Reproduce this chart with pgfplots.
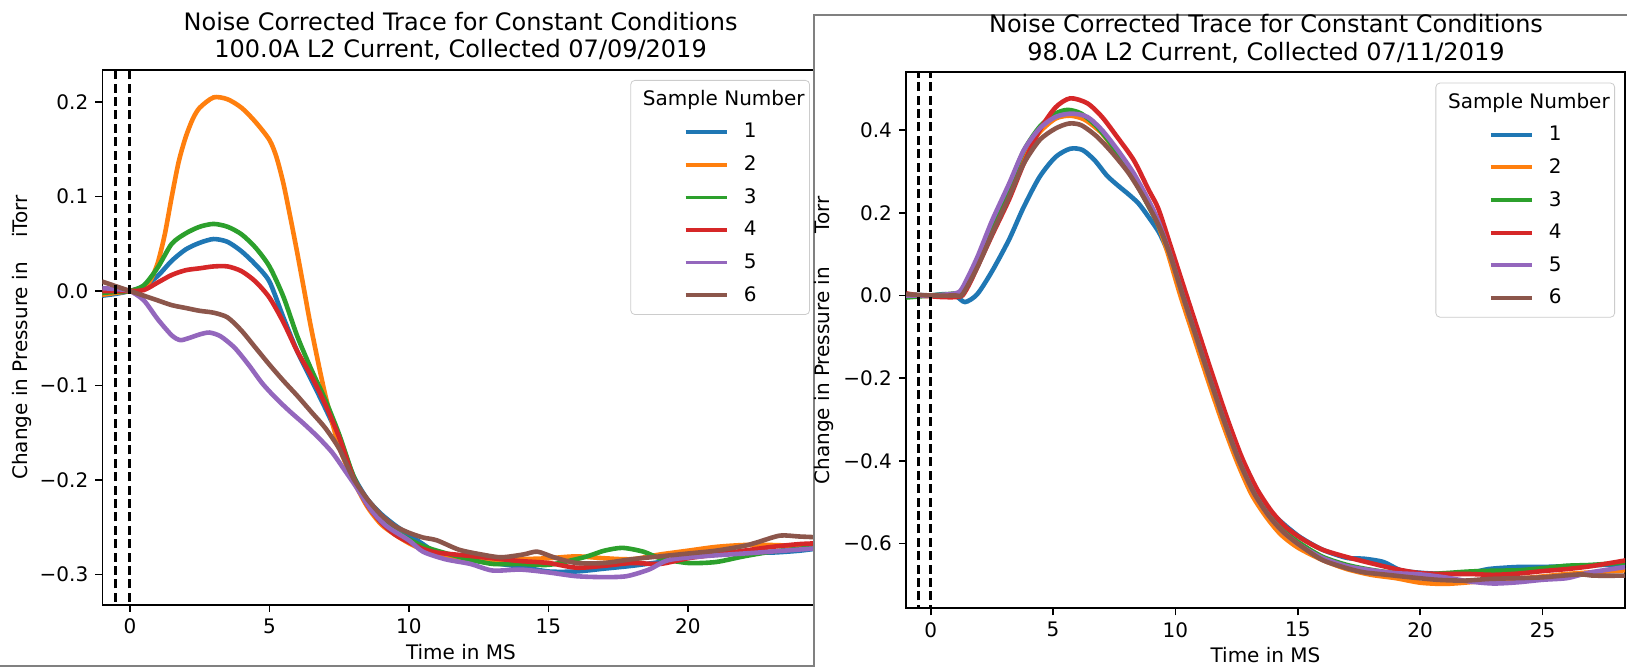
\documentclass[border=0pt]{standalone}
\usepackage{fontspec}
\setmainfont{DejaVu Sans}
\usepackage{pgfplots}
\pgfplotsset{compat=1.18}
\definecolor{cA}{HTML}{1F77B4}
\definecolor{cB}{HTML}{FF7F0E}
\definecolor{cC}{HTML}{2CA02C}
\definecolor{cD}{HTML}{D62728}
\definecolor{cE}{HTML}{9467BD}
\definecolor{cF}{HTML}{8C564B}
\definecolor{scrgray}{HTML}{808080}
\pgfplotsset{
  mpl/.style={
    scale only axis,
    axis line style={line width=0.8pt},
    every tick/.style={line width=0.8pt, black},
    tick align=outside, tick pos=left,
    major tick length=3.5pt,
    tick label style={font=\fontsize{10}{12}\selectfont},
    label style={font=\fontsize{10}{12}\selectfont},
    legend cell align=left,
    legend style={font=\fontsize{10}{12}\selectfont, draw=black!20, rounded corners=2pt,
      fill=white, inner xsep=26.5pt, inner ysep=5.2pt, column sep=7.6pt, row sep=7.45pt,
      nodes={inner sep=0pt}, cells={anchor=west}},
    legend image code/.code={\draw[##1, line width=1.9pt] (0pt,0pt) -- (20.5pt,0pt);},
    every axis plot/.append style={line width=2.3pt, smooth, tension=0.45},
  },
  vdash/.style={black, line width=1.5pt, dash pattern=on 4.5pt off 2.2pt, forget plot, sharp plot},
}
\newcommand{\legtitle}{\addlegendimage{empty legend}\addlegendentry{\makebox[0pt]{\hspace{-21pt}\raisebox{0pt}[7.3pt][0pt]{Sample Number}}}}
\begin{document}
\begin{tikzpicture}
\useasboundingbox (0pt,0pt) rectangle (813.5pt,-333.5pt);
% ---------------- left panel ----------------
\begin{axis}[mpl,
  at={(51.15pt,-302.5pt)}, anchor=south west,
  width=358.65pt, height=267.5pt,
  xmin=-0.99, xmax=24.72, ymin=-0.3325, ymax=0.234,
  xtick={0,5,10,15,20}, xticklabels={0,5,10,15,20},
  ytick={-0.3,-0.2,-0.1,0,0.1,0.2}, yticklabels={−0.3,−0.2,−0.1,0.0,0.1,0.2},
  xlabel={Time in MS},
  ylabel={Change in Pressure in\hspace{0.9em} iTorr},
  xlabel style={at={(axis description cs:0.5,-0.088)}, anchor=center},
  ylabel style={at={(axis description cs:-0.1126,0.5)}, anchor=center},
  legend style={at={(axis description cs:0.9865,0.9813)}, anchor=north east},
]
\legtitle
\addplot[cA] coordinates {(-1,-0.005) (-0.5,-0.003) (0,0.0) (0.5,0.005) (1,0.016) (1.5,0.032) (2,0.044) (2.5,0.051) (3,0.055) (3.5,0.052) (4,0.042) (4.5,0.028) (5,0.01) (5.5,-0.028) (6,-0.064) (6.5,-0.094) (7,-0.124) (7.5,-0.156) (8,-0.195) (8.5,-0.22) (9,-0.236) (9.5,-0.248) (10,-0.258) (10.5,-0.268) (11,-0.277) (12,-0.284) (13,-0.288) (14,-0.292) (15,-0.297) (16,-0.297) (17,-0.294) (18,-0.291) (19,-0.287) (20,-0.282) (21,-0.279) (22,-0.277) (23,-0.277) (24,-0.275) (24.8,-0.272)};
\addlegendentry{1}
\addplot[cB] coordinates {(-1,-0.004) (-0.5,-0.002) (0,0.0) (0.5,0.004) (0.75,0.012) (1.0,0.03) (1.25,0.06) (1.5,0.1) (1.75,0.137) (2.0,0.163) (2.25,0.182) (2.5,0.194) (3.0,0.205) (3.5,0.203) (4.0,0.194) (4.5,0.179) (5.0,0.16) (5.25,0.142) (5.5,0.114) (5.75,0.078) (6.0,0.04) (6.25,0.0) (6.5,-0.04) (7.0,-0.11) (7.5,-0.165) (8.0,-0.2) (8.5,-0.228) (9.0,-0.247) (9.5,-0.258) (10,-0.267) (10.5,-0.274) (11,-0.279) (12,-0.284) (13,-0.285) (14,-0.284) (15,-0.283) (16,-0.281) (17,-0.283) (18,-0.284) (19,-0.279) (20,-0.275) (21,-0.271) (22,-0.269) (23,-0.269) (24,-0.27) (24.8,-0.27)};
\addlegendentry{2}
\addplot[cC] coordinates {(-1,-0.002) (-0.5,-0.001) (0,0.0) (0.5,0.006) (1,0.025) (1.5,0.05) (2,0.061) (2.5,0.068) (3,0.071) (3.5,0.068) (4,0.06) (4.5,0.046) (5,0.026) (5.5,-0.006) (6,-0.048) (6.5,-0.083) (7,-0.115) (7.5,-0.152) (8,-0.195) (8.5,-0.224) (9,-0.242) (9.5,-0.254) (10,-0.263) (10.5,-0.27) (11,-0.275) (12,-0.283) (13,-0.289) (14,-0.289) (15,-0.29) (16,-0.284) (16.5,-0.28) (17,-0.275) (17.65,-0.272) (18.4,-0.276) (19,-0.283) (20,-0.288) (21,-0.287) (22,-0.281) (23,-0.276) (24,-0.273) (24.8,-0.27)};
\addlegendentry{3}
\addplot[cD] coordinates {(-1,0.0) (-0.5,0.0) (0,0.0) (0.5,0.001) (1,0.009) (1.5,0.017) (2,0.022) (2.5,0.024) (3,0.026) (3.5,0.026) (4,0.021) (4.5,0.01) (5,-0.007) (5.5,-0.033) (6,-0.064) (6.5,-0.09) (7,-0.12) (7.5,-0.155) (8,-0.197) (8.5,-0.226) (9,-0.245) (9.5,-0.258) (10,-0.266) (10.5,-0.273) (11,-0.277) (12,-0.28) (13,-0.283) (14,-0.286) (15,-0.288) (16,-0.293) (17,-0.291) (18,-0.288) (19,-0.289) (20,-0.283) (21,-0.279) (22,-0.275) (23,-0.271) (24,-0.268) (24.8,-0.267)};
\addlegendentry{4}
\addplot[cE] coordinates {(-1,0.003) (-0.5,0.002) (0,0.0) (0.5,-0.01) (1,-0.03) (1.5,-0.047) (1.8,-0.052) (2.1,-0.05) (2.5,-0.046) (2.85,-0.044) (3.25,-0.048) (3.75,-0.06) (4.25,-0.078) (4.75,-0.098) (5.25,-0.114) (5.75,-0.128) (6.25,-0.141) (6.75,-0.155) (7.25,-0.171) (7.75,-0.192) (8.1,-0.207) (8.65,-0.232) (9.2,-0.249) (10,-0.264) (10.5,-0.276) (11.3,-0.284) (12.2,-0.289) (13,-0.296) (14,-0.295) (15,-0.298) (16,-0.302) (17,-0.303) (17.8,-0.302) (18.6,-0.295) (19.3,-0.285) (20.5,-0.281) (22.5,-0.277) (24.8,-0.272)};
\addlegendentry{5}
\addplot[cF] coordinates {(-1,0.01) (-0.5,0.005) (0,0.0) (0.5,-0.005) (1,-0.01) (1.5,-0.015) (2,-0.018) (2.5,-0.021) (3,-0.023) (3.5,-0.028) (4,-0.042) (4.5,-0.06) (5,-0.078) (5.5,-0.095) (6,-0.111) (6.5,-0.128) (7,-0.145) (7.5,-0.167) (8,-0.198) (8.5,-0.22) (9,-0.237) (9.5,-0.249) (10,-0.256) (10.5,-0.261) (11,-0.264) (11.8,-0.274) (12.6,-0.279) (13.3,-0.282) (14.1,-0.279) (14.6,-0.276) (15.2,-0.282) (16,-0.288) (17,-0.288) (18,-0.284) (19,-0.281) (20,-0.278) (21,-0.275) (22,-0.27) (22.5,-0.266) (23.3,-0.259) (24,-0.26) (24.8,-0.261)};
\addlegendentry{6}
\addplot[vdash] coordinates {(-0.5,-0.4) (-0.5,0.3)};
\addplot[vdash] coordinates {(0,-0.4) (0,0.3)};
\end{axis}
\draw[scrgray, line width=0.9pt] (0pt,-333pt) -- (407pt,-333pt);
\node[font=\fontsize{12}{13.7}\selectfont, align=center] at (230.3pt,-18.2pt) {Noise Corrected Trace for Constant Conditions\\100.0A L2 Current, Collected 07/09/2019};
% ---------------- right panel cover ----------------
\fill[white] (407pt,-7.5pt) rectangle (820pt,-340pt);
\draw[scrgray, line width=0.7pt] (407pt,-340pt) -- (407pt,-7.5pt) -- (820pt,-7.5pt);
% ---------------- right panel ----------------
\begin{axis}[mpl,
  at={(453pt,-304.15pt)}, anchor=south west,
  width=359.5pt, height=268pt,
  xmin=-1.01, xmax=28.37, ymin=-0.757, ymax=0.54,
  xtick={0,5,10,15,20,25}, xticklabels={0,5,10,15,20,25},
  ytick={-0.6,-0.4,-0.2,0,0.2,0.4}, yticklabels={−0.6,−0.4,−0.2,0.0,0.2,0.4},
  xlabel={Time in MS},
  ylabel={Change in Pressure in\hspace{1.36em} Torr},
  xlabel style={at={(axis description cs:0.5,-0.088)}, anchor=center},
  ylabel style={at={(axis description cs:-0.114,0.5)}, anchor=center},
  legend style={at={(axis description cs:0.9861,0.9806)}, anchor=north east},
]
\legtitle
\addplot[cA] coordinates {(-1,0.002) (0,0.0) (0.5,0.003) (1.0,0.0) (1.4,-0.016) (1.9,0.003) (2.5,0.058) (3.2,0.135) (3.8,0.214) (4.45,0.287) (5.1,0.335) (5.7,0.355) (6.2,0.352) (6.7,0.327) (7.2,0.29) (7.65,0.266) (8.1,0.244) (8.5,0.222) (8.9,0.19) (9.35,0.15) (9.8,0.09) (10.3,0.0) (10.85,-0.1) (11.4,-0.2) (12.0,-0.305) (12.6,-0.4) (13.2,-0.47) (13.8,-0.518) (14.4,-0.552) (15.1,-0.585) (16,-0.615) (17,-0.635) (17.7,-0.637) (18.5,-0.645) (19.2,-0.665) (20,-0.671) (21,-0.674) (22,-0.672) (22.8,-0.662) (24,-0.657) (25,-0.657) (26,-0.655) (27,-0.653) (28.4,-0.65)};
\addlegendentry{1}
\addplot[cB] coordinates {(-1,0.0) (0,0.0) (1.0,0.002) (1.3,0.015) (1.9,0.085) (2.5,0.172) (3.2,0.262) (3.8,0.34) (4.45,0.395) (5.1,0.428) (5.7,0.435) (6.3,0.425) (7.0,0.392) (7.6,0.345) (8.3,0.285) (8.9,0.22) (9.3,0.17) (9.7,0.1) (10.2,0.0) (10.75,-0.1) (11.3,-0.2) (11.9,-0.305) (12.5,-0.4) (13.1,-0.48) (13.7,-0.535) (14.3,-0.578) (15,-0.61) (16,-0.64) (17,-0.662) (18,-0.676) (19,-0.684) (20,-0.695) (21,-0.698) (22,-0.694) (23,-0.688) (24,-0.685) (25,-0.68) (26,-0.674) (27,-0.67) (28.4,-0.665)};
\addlegendentry{2}
\addplot[cC] coordinates {(-1,-0.005) (0,0.0) (1.0,0.005) (1.3,0.011) (1.9,0.076) (2.5,0.162) (3.2,0.262) (3.8,0.35) (4.45,0.408) (5.1,0.44) (5.6,0.449) (6.15,0.44) (6.8,0.408) (7.45,0.36) (8.1,0.303) (8.7,0.238) (9.35,0.165) (9.8,0.095) (10.3,0.0) (10.85,-0.1) (11.4,-0.2) (12.0,-0.305) (12.6,-0.4) (13.2,-0.475) (13.8,-0.528) (14.4,-0.568) (15.1,-0.6) (16,-0.632) (17,-0.652) (18,-0.664) (19,-0.672) (20,-0.675) (21,-0.672) (22,-0.668) (23,-0.666) (24,-0.665) (25,-0.66) (26,-0.654) (27,-0.652) (28.4,-0.646)};
\addlegendentry{3}
\addplot[cD] coordinates {(-1,0.005) (-0.5,0.0) (0,-0.002) (0.5,-0.004) (1.0,-0.004) (1.3,0.0) (1.6,0.03) (1.9,0.068) (2.5,0.145) (3.2,0.232) (3.8,0.319) (4.45,0.4) (5.1,0.455) (5.7,0.477) (6.4,0.465) (7.0,0.432) (7.6,0.385) (8.3,0.327) (8.9,0.256) (9.3,0.21) (9.8,0.12) (10.4,0.01) (10.95,-0.09) (11.5,-0.19) (12.1,-0.295) (12.7,-0.39) (13.3,-0.465) (13.9,-0.52) (14.5,-0.56) (15.2,-0.59) (16,-0.615) (17,-0.633) (18,-0.648) (19,-0.662) (20,-0.672) (21,-0.674) (22,-0.674) (23,-0.676) (24,-0.673) (25,-0.667) (26,-0.662) (27,-0.655) (28.4,-0.641)};
\addlegendentry{4}
\addplot[cE] coordinates {(-1,0.0) (0,0.0) (1.0,0.005) (1.3,0.019) (1.9,0.092) (2.5,0.18) (3.2,0.27) (3.8,0.351) (4.45,0.404) (5.1,0.432) (5.75,0.44) (6.4,0.432) (7.0,0.4) (7.65,0.351) (8.3,0.295) (8.9,0.23) (9.3,0.18) (9.75,0.105) (10.3,0.0) (10.85,-0.1) (11.4,-0.2) (12.0,-0.305) (12.6,-0.4) (13.2,-0.477) (13.8,-0.532) (14.4,-0.572) (15.1,-0.605) (16,-0.635) (17,-0.655) (18,-0.665) (19,-0.672) (20,-0.675) (21,-0.682) (22,-0.692) (23,-0.697) (24,-0.694) (25,-0.688) (26,-0.684) (26.8,-0.672) (27.5,-0.665) (28.4,-0.657)};
\addlegendentry{5}
\addplot[cF] coordinates {(-1,0.003) (0,0.0) (1.0,0.0) (1.3,0.003) (1.9,0.068) (2.5,0.148) (3.2,0.238) (3.8,0.319) (4.45,0.376) (5.1,0.404) (5.65,0.416) (6.15,0.412) (6.8,0.384) (7.45,0.343) (8.1,0.295) (8.7,0.238) (9.35,0.165) (9.8,0.095) (10.3,0.0) (10.85,-0.1) (11.4,-0.2) (12.0,-0.305) (12.6,-0.4) (13.2,-0.477) (13.8,-0.532) (14.4,-0.572) (15.1,-0.605) (16,-0.64) (17,-0.66) (17.7,-0.67) (18.5,-0.675) (19.6,-0.682) (20.7,-0.688) (21.8,-0.69) (22.8,-0.686) (24,-0.684) (25,-0.682) (26.5,-0.675) (27.1,-0.678) (28.4,-0.678)};
\addlegendentry{6}
\addplot[vdash] coordinates {(-0.5,-0.9) (-0.5,0.7)};
\addplot[vdash] coordinates {(0,-0.9) (0,0.7)};
\end{axis}
\node[font=\fontsize{12}{13.7}\selectfont, align=center] at (633pt,-19.3pt) {Noise Corrected Trace for Constant Conditions\\98.0A L2 Current, Collected 07/11/2019};
\end{tikzpicture}
\end{document}
